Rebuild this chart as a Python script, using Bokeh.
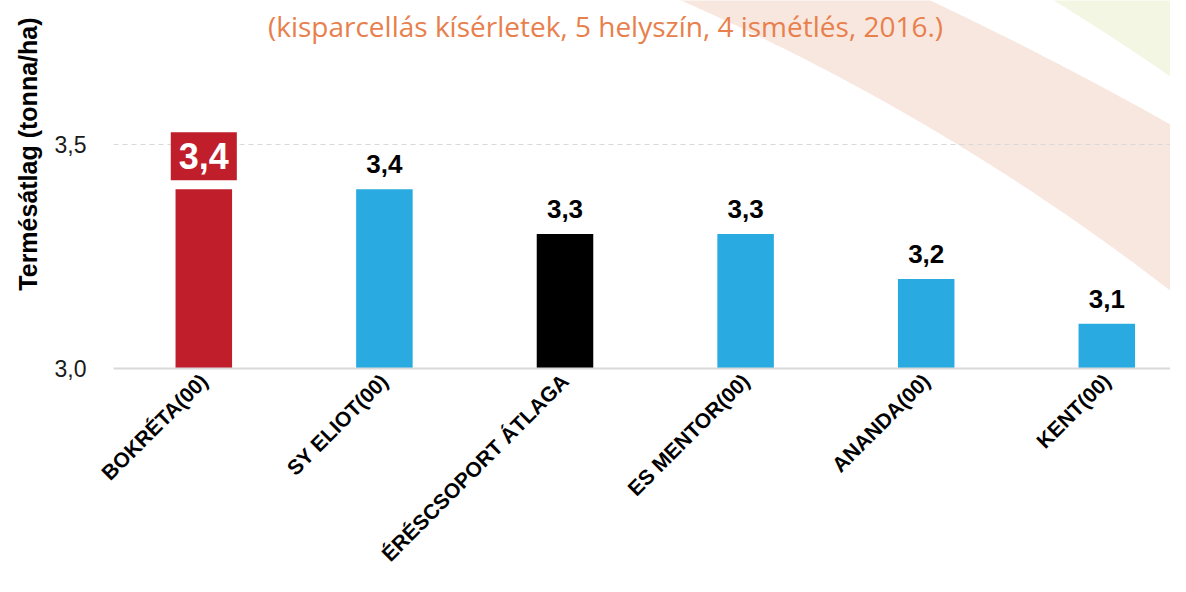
import math
import numpy as np
from bokeh.plotting import figure
from bokeh.models import Range1d, FixedTicker, CustomJSTickFormatter, Label, ColumnDataSource, Title
from bokeh.core.properties import value
from bokeh.embed import file_html
from bokeh.resources import INLINE

# ---------------- data ----------------
categories = ["BOKRÉTA(00)", "SY ELIOT(00)", "ÉRÉSCSOPORT ÁTLAGA", "ES MENTOR(00)", "ANANDA(00)", "KENT(00)"]
values = [3.4, 3.4, 3.3, 3.3, 3.2, 3.1]
highlight_index = 0
y_ticks = [3.0, 3.5]
y_base = 3.0
subtitle = "(kisparcellás kísérletek, 5 helyszín, 4 ismétlés, 2016.)"
y_title = "Termésátlag (tonna/ha)"

# ---------------- styles ----------------
RED = "#BF1E2A"
BLUE = "#29ABE2"
BLACK = "#000000"
bar_colors = [RED, BLUE, BLACK, BLUE, BLUE, BLUE]
PEACH = "#F8E7DF"
GREEN = "#F3F6E2"
ORANGE = "#E8804D"
AXIS_GRAY = "#D9D9D9"

W, H = 1170, 576
FL, FR, FT, FB = 113, 1170, 0, 368   # frame edges (canvas px)
PX_X = 180.6                          # px per category
PX_Y = 448.0                          # px per tonna/ha
x0 = -0.5
x1 = x0 + (FR - FL) / PX_X
y_top = y_base + (FB - FT) / PX_Y


def px(cx, cy):
    """canvas pixel -> data coordinates (decoration / text placement only)"""
    cx = np.asarray(cx, dtype=float)
    cy = np.asarray(cy, dtype=float)
    return x0 + (cx - FL) / PX_X, y_base + (FB - cy) / PX_Y


p = figure(width=W, height=H, x_range=Range1d(x0, x1), y_range=Range1d(y_base, y_top),
           output_backend="svg", toolbar_location=None,
           min_border_left=FL, min_border_right=0, min_border_top=0,
           min_border_bottom=H - FB)
p.outline_line_color = None
p.background_fill_color = "white"
p.border_fill_color = "white"

# ---------------- decorative arcs ----------------
def arc_top(xs, h, k, r):
    return k - np.sqrt(np.maximum(r * r - (xs - h) ** 2, 0))

xs = np.linspace(560, 1270, 240)
top = arc_top(xs, -714, 3477, 3846)
bot = arc_top(xs, -259, 2142, 2339)
bx, by = px(np.concatenate([xs, xs[::-1]]), np.concatenate([top, bot[::-1]]))
p.patch(list(bx), list(by), fill_color=PEACH, line_color=None, level="image")

xs2 = np.linspace(880, 1270, 120)
edge = arc_top(xs2, -259, 2142, 2512)
gx, gy = px(np.concatenate([xs2, [1270, 880]]), np.concatenate([edge, [-80, -80]]))
p.patch(list(gx), list(gy), fill_color=GREEN, line_color=None, level="image")

# ---------------- grid ----------------
p.xgrid.visible = False
p.ygrid.ticker = FixedTicker(ticks=[t for t in y_ticks if t != y_base])
p.ygrid.grid_line_color = AXIS_GRAY
p.ygrid.grid_line_dash = "5 4"
p.ygrid.grid_line_width = 1

# ---------------- bars ----------------
xpos = list(range(len(categories)))
labels = [f"{v:.1f}".replace(".", ",") for v in values]
src = ColumnDataSource(dict(x=xpos, top=values, color=bar_colors, label=labels))
p.vbar(x="x", top="top", bottom=y_base, width=0.313, fill_color="color", line_color=None, source=src)

normal = [i for i in xpos if i != highlight_index]
src_n = ColumnDataSource(dict(x=[xpos[i] for i in normal], y=[values[i] for i in normal],
                              label=[labels[i] for i in normal]))
p.text(x="x", y="y", text="label", source=src_n, text_font=value("Liberation Sans"),
       text_font_style="bold", text_font_size="26px", text_color="black",
       text_align="center", text_baseline="alphabetic", y_offset=-25)

p.text(x=[xpos[highlight_index]], y=[values[highlight_index]], text=[labels[highlight_index]],
       text_font=value("Liberation Sans"), text_font_style="bold", text_font_size="36px",
       text_color="white", text_align="center", text_baseline="middle", y_offset=-33,
       background_fill_color=RED, padding=dict(left=8, right=8, top=11, bottom=11))

# ---------------- x axis ----------------
p.xaxis.ticker = FixedTicker(ticks=xpos)
p.xaxis.major_label_overrides = {i: c for i, c in zip(xpos, categories)}
p.xaxis.major_label_orientation = math.pi / 4
p.xaxis.major_label_text_font = "Liberation Sans"
p.xaxis.major_label_text_font_style = "bold"
p.xaxis.major_label_text_font_size = "21px"
p.xaxis.major_label_text_color = "black"
p.xaxis.major_label_standoff = 3
p.xaxis.axis_line_color = AXIS_GRAY
p.xaxis.axis_line_width = 2
p.xaxis.major_tick_line_color = None
p.xaxis.minor_tick_line_color = None

# ---------------- y axis ----------------
p.yaxis.ticker = FixedTicker(ticks=y_ticks)
p.yaxis.formatter = CustomJSTickFormatter(code="return tick.toFixed(1).replace('.', ',');")
p.yaxis.major_label_text_font = "Liberation Sans"
p.yaxis.major_label_text_font_size = "23px"
p.yaxis.major_label_text_color = "#1A1A1A"
p.yaxis.major_label_standoff = 21
p.yaxis.axis_line_color = None
p.yaxis.major_tick_line_color = None
p.yaxis.minor_tick_line_color = None

p.add_layout(Title(text=y_title, align="right", offset=17, standoff=20,
                   text_font="Liberation Sans", text_font_style="bold",
                   text_font_size="25px", text_color="black"), "left")

# ---------------- subtitle ----------------
sx, sy = px(605, 25)
p.add_layout(Label(x=float(sx), y=float(sy), text=subtitle, text_font="Open Sans",
                   text_font_size="28px", text_color=ORANGE, text_align="center",
                   text_baseline="alphabetic"))

open("out.html", "w").write(file_html(p, INLINE))
